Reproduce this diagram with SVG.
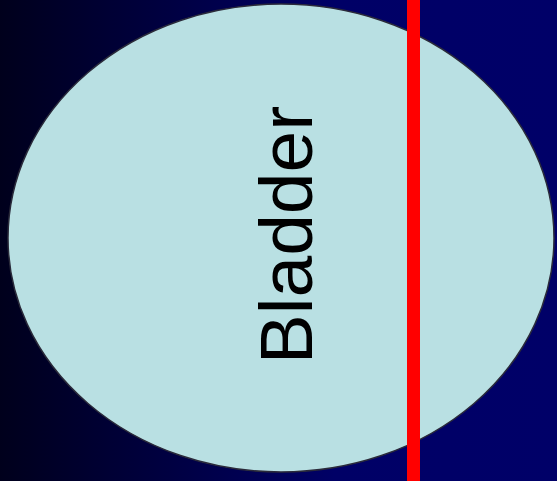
<svg xmlns="http://www.w3.org/2000/svg" width="557" height="481" viewBox="0 0 557 481">
<defs>
<linearGradient id="bg" x1="0" y1="0" x2="1" y2="0">
<stop offset="0" stop-color="#00001c"/>
<stop offset="0.6" stop-color="#000066"/>
<stop offset="1" stop-color="#000068"/>
</linearGradient>
<style>
.organ{fill:#b9e0e3;stroke:#2a2a3a;stroke-width:1.5}
.label{font-family:"Liberation Sans",Arial,sans-serif;font-size:75px;fill:#000}
.cut{fill:#ff0000}
</style>
</defs>
<rect width="557" height="481" fill="url(#bg)"/>
<g id="bladder">
<ellipse class="organ" cx="281" cy="238" rx="273" ry="234"/>
<text class="label" text-anchor="middle" transform="translate(312,235) rotate(-90)">Bladder</text>
</g>
<g id="connectors">
<rect class="cut" x="407" y="0" width="13" height="481"/>
</g>
</svg>
